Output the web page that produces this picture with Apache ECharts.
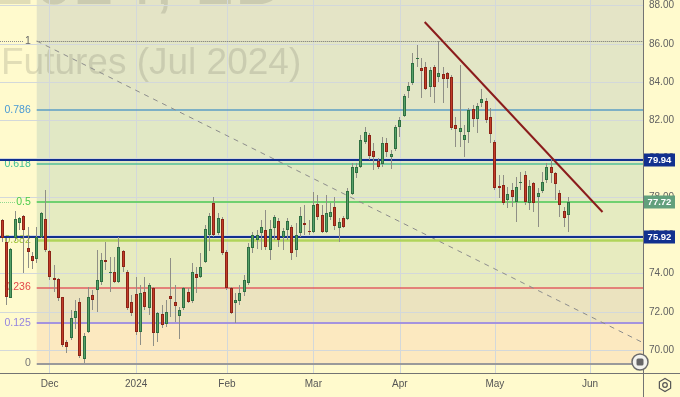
<!DOCTYPE html>
<html><head><meta charset="utf-8">
<script src="https://cdn.jsdelivr.net/npm/echarts@6/dist/echarts.min.js"></script>
<style>html,body{margin:0;padding:0;background:#fffacd;}#c{width:680px;height:397px;}</style>
</head><body><div id="c"></div>
<script>
// ---------- DATA ----------
const dates = [
 '2023-11-15','2023-11-16','2023-11-17','2023-11-20','2023-11-21','2023-11-22','2023-11-24','2023-11-27','2023-11-28','2023-11-29','2023-11-30',
 '2023-12-01','2023-12-04','2023-12-05','2023-12-06','2023-12-07','2023-12-08','2023-12-11','2023-12-12','2023-12-13','2023-12-14','2023-12-15','2023-12-18','2023-12-19','2023-12-20','2023-12-21','2023-12-22','2023-12-26','2023-12-27','2023-12-28','2023-12-29',
 '2024-01-02','2024-01-03','2024-01-04','2024-01-05','2024-01-08','2024-01-09','2024-01-10','2024-01-11','2024-01-12','2024-01-16','2024-01-17','2024-01-18','2024-01-19','2024-01-22','2024-01-23','2024-01-24','2024-01-25','2024-01-26','2024-01-29','2024-01-30','2024-01-31',
 '2024-02-01','2024-02-02','2024-02-05','2024-02-06','2024-02-07','2024-02-08','2024-02-09','2024-02-12','2024-02-13','2024-02-14','2024-02-15','2024-02-16','2024-02-20','2024-02-21','2024-02-22','2024-02-23','2024-02-26','2024-02-27','2024-02-28','2024-02-29',
 '2024-03-01','2024-03-04','2024-03-05','2024-03-06','2024-03-07','2024-03-08','2024-03-11','2024-03-12','2024-03-13','2024-03-14','2024-03-15','2024-03-18','2024-03-19','2024-03-20','2024-03-21','2024-03-22','2024-03-25','2024-03-26','2024-03-27','2024-03-28',
 '2024-04-01','2024-04-02','2024-04-03','2024-04-04','2024-04-05','2024-04-08','2024-04-09','2024-04-10','2024-04-11','2024-04-12','2024-04-15','2024-04-16','2024-04-17','2024-04-18','2024-04-19','2024-04-22','2024-04-23','2024-04-24','2024-04-25','2024-04-26','2024-04-29','2024-04-30',
 '2024-05-01','2024-05-02','2024-05-03','2024-05-06','2024-05-07','2024-05-08','2024-05-09','2024-05-10','2024-05-13','2024-05-14','2024-05-15','2024-05-16','2024-05-17','2024-05-20','2024-05-21','2024-05-22','2024-05-23','2024-05-24'
];
const futureDates = ['2024-05-28','2024-05-29','2024-05-30','2024-05-31','2024-06-03','2024-06-04','2024-06-05','2024-06-06','2024-06-07','2024-06-10','2024-06-11','2024-06-12','2024-06-13','2024-06-14','2024-06-17','2024-06-18','2024-06-20'];

const opens = [76.80,75.66,72.74,75.84,76.62,77.00,75.33,74.92,74.74,75.92,76.85,
 75.18,73.75,73.71,72.77,70.42,70.63,71.69,72.51,69.52,70.96,72.88,73.14,73.57,74.71,74.01,74.09,73.57,75.18,74.09,72.53,
 72.93,70.96,73.05,72.18,73.23,70.88,71.88,71.36,72.84,72.53,71.80,72.18,73.05,72.58,73.97,73.83,74.62,76.01,77.70,76.13,76.83,
 75.14,73.23,72.44,72.56,73.03,73.50,75.32,75.75,76.10,76.27,75.23,76.36,76.74,75.92,76.27,76.45,75.23,76.10,76.62,76.24,
 76.18,77.63,77.06,76.18,76.97,77.49,76.36,76.92,76.85,78.15,79.24,79.58,80.86,81.24,80.42,79.88,79.72,80.80,80.10,80.49,
 81.64,82.23,83.55,83.94,85.19,84.72,84.81,83.76,84.81,84.28,84.42,84.49,84.25,81.76,81.41,80.98,81.41,82.58,82.06,82.92,83.03,82.16,
 80.89,78.59,78.62,77.84,78.36,77.75,78.71,79.15,77.67,78.71,78.01,78.33,78.89,79.58,79.24,78.19,77.28,77.06];
const closes = [75.86,72.79,75.28,76.85,76.92,76.27,75.12,74.67,75.92,77.16,75.23,
 73.82,73.66,72.74,70.27,70.16,71.68,72.04,69.69,70.75,72.79,72.62,73.66,74.71,74.62,74.09,73.57,75.39,74.36,72.18,71.95,
 70.96,72.97,72.23,73.40,70.88,71.92,71.31,72.00,72.68,72.30,72.09,73.23,72.53,74.09,73.75,74.36,76.31,77.02,76.01,76.88,75.09,
 73.23,71.95,72.62,73.00,73.66,75.40,76.01,76.01,76.45,75.40,76.31,76.94,75.75,76.22,76.74,75.06,76.01,77.00,76.53,76.17,
 77.58,76.97,76.18,77.15,77.20,76.48,76.71,76.45,78.33,79.58,79.58,80.98,81.38,80.14,80.07,79.58,80.80,80.36,80.23,81.67,
 82.02,83.27,83.80,84.98,85.24,84.60,83.62,84.63,83.76,84.46,84.16,84.16,81.59,81.53,81.59,81.24,82.54,82.06,82.75,83.12,82.02,81.29,
 78.45,78.48,77.70,78.15,78.01,78.53,78.80,77.75,78.59,77.67,78.19,78.77,79.58,79.27,78.68,77.58,76.88,77.72];
const lows = [75.66,72.35,72.72,75.71,76.27,74.03,74.29,74.24,74.55,75.86,75.14,
 73.66,73.05,72.58,70.18,69.86,70.53,71.10,69.59,69.30,70.89,72.09,72.00,73.40,74.18,73.05,73.50,73.50,74.09,72.09,71.78,
 70.79,70.27,72.09,71.83,70.21,70.44,71.14,71.22,71.74,71.48,70.56,72.09,72.44,72.47,72.97,73.75,74.53,75.19,75.92,76.01,74.97,
 73.14,71.88,71.40,72.35,72.83,73.40,75.06,75.26,75.23,75.23,74.71,75.75,75.40,75.23,75.75,74.71,74.88,75.92,76.01,76.01,
 76.10,76.80,76.10,76.10,76.80,76.27,75.66,76.36,76.80,78.10,78.97,79.50,80.77,79.93,79.41,79.44,79.58,80.10,79.44,80.42,
 81.12,82.16,83.15,83.85,84.81,83.15,83.59,83.21,82.89,84.02,82.89,83.68,81.50,80.63,80.63,80.10,80.80,81.67,81.33,82.68,81.85,80.80,
 78.36,77.93,77.58,77.42,77.49,76.69,78.36,77.58,77.32,77.23,76.45,78.19,78.71,78.71,77.84,76.97,76.45,76.18];
const highs = [76.83,75.86,75.33,77.28,76.97,77.06,76.45,75.14,76.45,77.23,78.36,
 75.23,74.44,73.76,72.79,70.53,72.09,72.62,72.72,70.89,73.31,73.14,75.23,75.07,75.66,74.88,74.88,75.92,75.23,74.18,72.88,
 73.83,73.40,73.83,73.50,73.31,72.00,72.35,72.62,74.79,73.40,72.27,73.31,73.23,74.53,74.36,75.06,76.53,77.15,78.01,77.15,76.97,
 75.23,73.31,72.97,73.40,73.92,75.59,76.18,76.27,76.80,77.32,76.80,77.06,76.88,76.36,76.88,76.53,76.62,77.49,77.58,76.80,
 78.27,78.10,77.58,78.10,77.67,78.01,76.88,77.00,78.45,79.76,79.76,81.24,81.64,81.33,80.80,80.02,81.15,81.06,80.45,81.76,
 82.19,83.38,84.02,85.51,85.94,85.24,85.07,84.81,84.89,86.15,84.81,84.54,84.37,82.19,84.89,81.76,82.63,82.80,82.92,83.62,83.15,82.63,
 80.98,79.15,79.15,78.52,78.71,79.04,79.32,79.37,78.89,78.80,78.45,79.32,79.76,80.10,79.32,78.36,77.49,78.01];

const priceTicks = [70, 72, 74, 76, 78, 80, 82, 84, 86, 88];
const monthStarts = ['2023-12-01','2024-01-02','2024-02-01','2024-03-01','2024-04-01','2024-05-01','2024-06-03'];
const monthLabels = ['Dec','2024','Feb','Mar','Apr','May','Jun'];

const fibHigh = 86.15, fibLow = 69.30;          // fib anchors (price)
const fibAnchorIdx = [8, 157.9];                 // fib anchors (bar index)
const fibRatios = [1, 0.786, 0.618, 0.5, 0.382, 0.236, 0.125, 0];
const fibLabels = ['1', '0.786', '0.618', '0.5', '0.382', '0.236', '0.125', '0'];
const hLevels = [79.94, 75.92];
const lastPrice = 77.72;
const trendIdx = [97.76, 138.9];
const trendPrice = [87.14, 77.21];
const watermark1 = '2024, 1D';
const watermark2 = 'Futures (Jul 2024)';

// ---------- STYLE ----------
const yMin = 68.80, yMax = 88.29;
const fibLineColors = ['#6f6f6f','#5b9ec4','#52bf96','#70d070','#b0d45a','#e06060','#a493de','#9a9a9a'];
const fibLineWidths = [1, 1.5, 1.5, 2, 2.5, 1.5, 2, 2];
const fibLabelColors = ['#666666','#4a9ad4','#3fbf93','#4ccc4c','#a3c43c','#e24848','#9585e0','#777777'];
const zoneColors = ['#e4e4c6','#e3e6c6','#e1e8c5','#e2e9c3','#e5ebc1','#e7ebbf','#ebe3bf','#fce9c0'];
const gridColor = '#d3d8da';
const navy = '#12308f';

const categories = dates.concat(futureDates);
const N = categories.length;
const fibPrice = r => fibLow + r * (fibHigh - fibLow);

const candleData = dates.map((d, i) => [i, opens[i], closes[i], lows[i], highs[i]]);

function renderCandle(params, api) {
  const i = api.value(0);
  const o = api.value(1), c = api.value(2), l = api.value(3), h = api.value(4);
  const pO = api.coord([i, o]), pC = api.coord([i, c]), pL = api.coord([i, l]), pH = api.coord([i, h]);
  const xc = Math.floor(pO[0]) + 0.5;
  const up = c >= o;
  const top = Math.round(Math.min(pO[1], pC[1]));
  const bot = Math.round(Math.max(pO[1], pC[1]));
  const hgt = Math.max(1, bot - top);
  const children = [
    {type: 'line', shape: {x1: xc, y1: Math.round(pH[1]), x2: xc, y2: Math.round(pL[1])}, style: {stroke: '#8f8f86', lineWidth: 1}},
    {type: 'rect', shape: {x: xc - 1.5, y: top, width: 3, height: hgt}, style: {fill: up ? '#2f7042' : '#8c2417'}}
  ];
  if (hgt > 2) children.push({type: 'rect', shape: {x: xc - 0.5, y: top + 1, width: 1, height: hgt - 2}, style: {fill: up ? '#56a068' : '#c23c28'}});
  return {type: 'group', children};
}

const zoneAreas = [];
zoneAreas.push([{xAxis: fibAnchorIdx[0], yAxis: fibHigh, itemStyle: {color: zoneColors[0]}}, {xAxis: N - 0.5, yAxis: yMax}]);
for (let k = 0; k < fibRatios.length - 1; k++) {
  zoneAreas.push([{xAxis: fibAnchorIdx[0], yAxis: fibPrice(fibRatios[k + 1]), itemStyle: {color: zoneColors[k + 1]}},
                  {xAxis: N - 0.5, yAxis: fibPrice(fibRatios[k])}]);
}

const fibLines = fibRatios.map((r, k) => [
  {coord: [fibAnchorIdx[0], fibPrice(r)],
   lineStyle: {color: fibLineColors[k], width: fibLineWidths[k], type: k === 0 ? 'dotted' : 'solid'},
   label: {show: true, position: 'start', formatter: fibLabels[k], color: fibLabelColors[k], fontSize: 10.5, distance: 6, fontFamily: 'Liberation Sans'}},
  {coord: [N - 0.5, fibPrice(r)]}
]);
fibLines.push([{coord: [-0.5, fibHigh], lineStyle: {color: '#8a8a8a', width: 1, type: 'dotted'}, label: {show: false}}, {coord: [4.9, fibHigh]}]);
fibLines.push([{coord: [-0.5, fibPrice(0.5)], lineStyle: {color: '#8fd88f', width: 1, type: 'dotted'}, label: {show: false}}, {coord: [3, fibPrice(0.5)]}]);

const gridLines = priceTicks.map(v => ({yAxis: v})).concat(monthStarts.map(d => ({xAxis: categories.indexOf(d)})));

const option = {
  backgroundColor: '#fffacd',
  animation: false,
  grid: {left: 0, top: 0, width: 644, height: 373},
  xAxis: [
    {type: 'category', data: categories, boundaryGap: true, position: 'bottom',
     axisLine: {show: false}, axisTick: {show: false}, splitLine: {show: false},
     axisLabel: {interval: (i, v) => monthStarts.indexOf(v) >= 0,
                 formatter: v => monthLabels[monthStarts.indexOf(v)],
                 color: '#555', fontSize: 10, margin: 6, fontFamily: 'Liberation Sans'}},
    {type: 'value', min: -0.5, max: N - 0.5, show: false}
  ],
  yAxis: [{type: 'value', position: 'right', min: yMin, max: yMax,
           axisLine: {show: false}, axisTick: {show: false}, splitLine: {show: false},
           axisLabel: {customValues: priceTicks, formatter: v => v.toFixed(2), color: '#606060', fontSize: 10, margin: 5, fontFamily: 'Liberation Sans'}}],
  series: [
    {type: 'line', name: 'zones', xAxisIndex: 1, data: [], z: 1,
     markArea: {silent: true, z: 1, data: zoneAreas}},
    {type: 'line', name: 'grid', xAxisIndex: 1, data: [], z: 3,
     markLine: {silent: true, z: 3, symbol: ['none', 'none'], label: {show: false},
                lineStyle: {color: gridColor, width: 1, type: 'solid'}, data: gridLines}},
    {type: 'line', name: 'fibDiag', xAxisIndex: 1, z: 4, symbol: 'none',
     data: [[fibAnchorIdx[0], fibHigh], [fibAnchorIdx[1], fibLow]],
     lineStyle: {color: '#8c8c8c', width: 1, type: [5, 5]},
     markLine: {silent: true, z: 4, symbol: ['none', 'none'], data: fibLines}},
    {type: 'line', name: 'levels', xAxisIndex: 1, data: [], z: 5,
     markLine: {silent: true, z: 5, symbol: ['none', 'none'], label: {show: false},
                lineStyle: {color: navy, width: 2, type: 'solid'}, data: hLevels.map(v => ({yAxis: v}))}},
    {type: 'custom', name: 'CL', xAxisIndex: 0, z: 6, renderItem: renderCandle,
     encode: {x: 0, y: [1, 2, 3, 4]}, data: candleData},
    {type: 'line', name: 'trend', xAxisIndex: 1, z: 7, symbol: 'none',
     data: trendIdx.map((x, k) => [x, trendPrice[k]]),
     lineStyle: {color: '#8b1c1c', width: 2}}
  ]
};

const chart = echarts.init(document.getElementById('c'), null, {renderer: 'canvas'});
chart.setOption(option);

const yOf = v => chart.convertToPixel({yAxisIndex: 0}, v);
function priceBox(v, color, id) {
  const y = Math.round(yOf(v));
  return {type: 'group', id: id, z: 20, children: [
    {type: 'rect', z: 20, shape: {x: 644, y: y - 6.5, width: 31, height: 13}, style: {fill: color}},
    {type: 'text', z: 21, x: 659.5, y: y, style: {text: v.toFixed(2), fill: '#fff', font: 'bold 9.5px "Liberation Sans"', align: 'center', verticalAlign: 'middle'}}
  ]};
}
const hexPts = [];
for (let k = 0; k < 6; k++) { const a = Math.PI / 6 + k * Math.PI / 3; hexPts.push([665 + 6.5 * Math.cos(a), 385 + 6.5 * Math.sin(a)]); }

chart.setOption({graphic: [
  {type: 'text', z: 2, x: -6, y: -16, silent: true, style: {text: watermark1, font: '72px "Liberation Sans"', fill: 'rgba(95,95,85,0.19)', verticalAlign: 'middle'}},
  {type: 'text', z: 2, x: 1, y: 64, silent: true, style: {text: watermark2, font: '37px "Liberation Sans"', fill: 'rgba(95,95,85,0.19)', verticalAlign: 'middle'}},
  {type: 'line', z: 15, shape: {x1: 0, y1: 373.5, x2: 680, y2: 373.5}, style: {stroke: '#737373', lineWidth: 1}},
  {type: 'line', z: 15, shape: {x1: 643.5, y1: 0, x2: 643.5, y2: 397}, style: {stroke: '#737373', lineWidth: 1}},
  {type: 'circle', z: 16, shape: {cx: 640, cy: 362, r: 8}, style: {fill: '#f3f3ee', stroke: '#6a6a6a', lineWidth: 1.5}},
  {type: 'rect', z: 17, shape: {x: 636.5, y: 358.5, width: 7, height: 7, r: 1.5}, style: {fill: '#666'}},
  {type: 'polygon', z: 16, shape: {points: hexPts}, style: {fill: 'none', stroke: '#555', lineWidth: 1.2}},
  {type: 'circle', z: 16, shape: {cx: 665, cy: 385, r: 2.3}, style: {fill: 'none', stroke: '#555', lineWidth: 1.2}},
  priceBox(lastPrice, '#62a07c', 'lp'),
  priceBox(hLevels[0], navy, 'h0'),
  priceBox(hLevels[1], navy, 'h1')
]});
</script>
</body></html>
